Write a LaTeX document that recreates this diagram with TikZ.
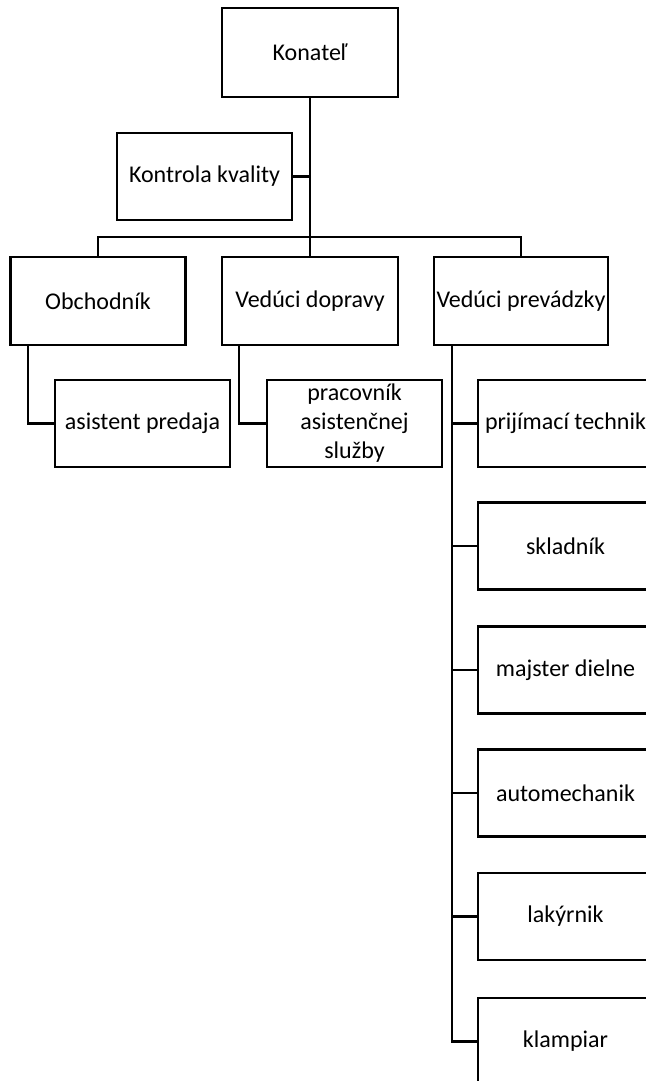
\documentclass[tikz,border=0pt]{standalone}
\usepackage{fontspec}
\setmainfont{Carlito}
\begin{document}
\begin{tikzpicture}[x=1pt,y=-1pt,
  box/.style={draw=black, line width=2.4pt, rectangle, minimum width=175pt, minimum height=87pt, inner sep=2pt, align=center, text=black, font=\fontsize{24}{29}\selectfont},
  conn/.style={draw=black, line width=2.2pt}]
\useasboundingbox[fill=white] (0,0) rectangle (645,1081);
\node[box, minimum width=176pt, minimum height=89pt] (konatel) at (310,52.5) {Konateľ};
\node[box] (kontrola) at (204.5,176.5) {Kontrola kvality};
\node[box, minimum height=88pt] (obch) at (98,301) {Obchodník};
\node[box, minimum width=176pt, minimum height=88pt] (dopr) at (310,301) {Vedúci dopravy};
\node[box, minimum width=174pt, minimum height=88pt] (prev) at (521,301) {Vedúci prevádzky};
\node[box] (asist) at (142.5,423.5) {asistent predaja};
\node[box] (prac) at (354.5,423.5) {pracovník\\asistenčnej\\služby};
\node[box] (prij) at (565.5,423.5) {prijímací technik};
\node[box] (sklad) at (565.5,546) {skladník};
\node[box] (majst) at (565.5,670) {majster dielne};
\node[box] (auto) at (565.5,793) {automechanik};
\node[box] (lak) at (565.5,916.5) {lakýrnik};
\node[box] (klamp) at (565.5,1041.5) {klampiar};
\coordinate (bus) at (310,237);
\coordinate (po) at ([xshift=19pt]obch.south west);
\coordinate (pd) at ([xshift=18pt]dopr.south west);
\coordinate (pv) at ([xshift=19pt]prev.south west);
\draw[conn] (konatel.south) -- (dopr.north);
\draw[conn] (kontrola.east) -- (kontrola.east -| konatel.south);
\draw[conn] (obch.north) |- (bus) -| (prev.north);
\draw[conn] (po) |- (asist.west);
\draw[conn] (pd) |- (prac.west);
\draw[conn] (pv) |- (klamp.west);
\foreach \n in {prij,sklad,majst,auto,lak}{
  \draw[conn] (\n.west) -- (\n.west -| pv);
}
\end{tikzpicture}
\end{document}
